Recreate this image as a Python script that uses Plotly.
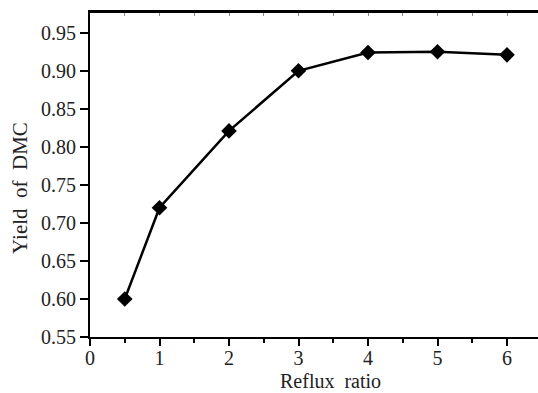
import plotly.graph_objects as go

reflux_ratio = [0.5, 1, 2, 3, 4, 5, 6]
yield_dmc = [0.600, 0.720, 0.821, 0.900, 0.924, 0.925, 0.921]
x_ticks = [0, 1, 2, 3, 4, 5, 6]
y_ticks = [0.55, 0.60, 0.65, 0.70, 0.75, 0.80, 0.85, 0.90, 0.95]

FONT = "Liberation Serif"
FS = 20
TXT = "#222"

fig = go.Figure()
fig.add_trace(go.Scatter(
    x=reflux_ratio, y=yield_dmc, mode="lines+markers",
    line=dict(color="black", width=2.5),
    marker=dict(symbol="diamond", size=12, color="black"),
    showlegend=False,
))
# invisible traces to activate the extra axes
fig.add_trace(go.Scatter(x=[0], y=[0.55], xaxis="x2", mode="markers",
                         marker=dict(opacity=0), showlegend=False, hoverinfo="skip"))
fig.add_trace(go.Scatter(x=[0], y=[0.55], xaxis="x3", mode="markers",
                         marker=dict(opacity=0), showlegend=False, hoverinfo="skip"))

XR = [0, 6.446]
fig.update_layout(
    width=538, height=393,
    margin=dict(l=90, r=0, t=13, b=56),
    plot_bgcolor="white", paper_bgcolor="white",
    font=dict(family=FONT, size=FS, color=TXT),
    xaxis=dict(
        range=XR, tickmode="array", tickvals=x_ticks,
        ticktext=[str(v) for v in x_ticks],
        showgrid=False, zeroline=False,
        showline=True, linecolor="black", linewidth=2,
        ticks="outside", ticklen=2, tickwidth=1, tickcolor="rgba(0,0,0,0)",
        tickfont=dict(family=FONT, size=FS, color=TXT),
    ),
    xaxis3=dict(
        range=XR, overlaying="x", side="bottom", showticklabels=False,
        showgrid=False, zeroline=False, showline=False,
        tickmode="array", tickvals=x_ticks,
        ticks="outside", ticklen=8, tickwidth=2, tickcolor="black",
        minor=dict(dtick=0.5, tick0=0, ticks="outside", ticklen=5, tickwidth=2, tickcolor="black"),
    ),
    xaxis2=dict(
        range=XR, overlaying="x", side="top", showticklabels=False,
        showgrid=False, zeroline=False,
        showline=True, linecolor="black", linewidth=2.5,
        ticks="inside", ticklen=3, tickwidth=1, tickcolor="#888",
        dtick=0.5, tick0=0,
    ),
    yaxis=dict(
        range=[0.55, 0.976], tickmode="array", tickvals=y_ticks,
        ticktext=[f"{v:.2f}" for v in y_ticks],
        showgrid=False, zeroline=False,
        showline=True, linecolor="black", linewidth=2,
        ticks="outside", ticklen=8, tickwidth=2, tickcolor="black",
        tickfont=dict(family=FONT, size=FS, color=TXT),
    ),
    annotations=[
        dict(text="Reflux\u00a0 ratio", xref="paper", yref="paper",
             x=0.536, y=0, yshift=-44, xanchor="center", yanchor="middle",
             showarrow=False, font=dict(family=FONT, size=FS, color=TXT)),
        dict(text="Yield\u00a0 of\u00a0 DMC", xref="paper", yref="paper",
             x=0, xshift=-70, y=0.46, xanchor="center", yanchor="middle",
             textangle=-90, showarrow=False,
             font=dict(family=FONT, size=21, color=TXT)),
    ],
)

fig.write_html("out.html")
